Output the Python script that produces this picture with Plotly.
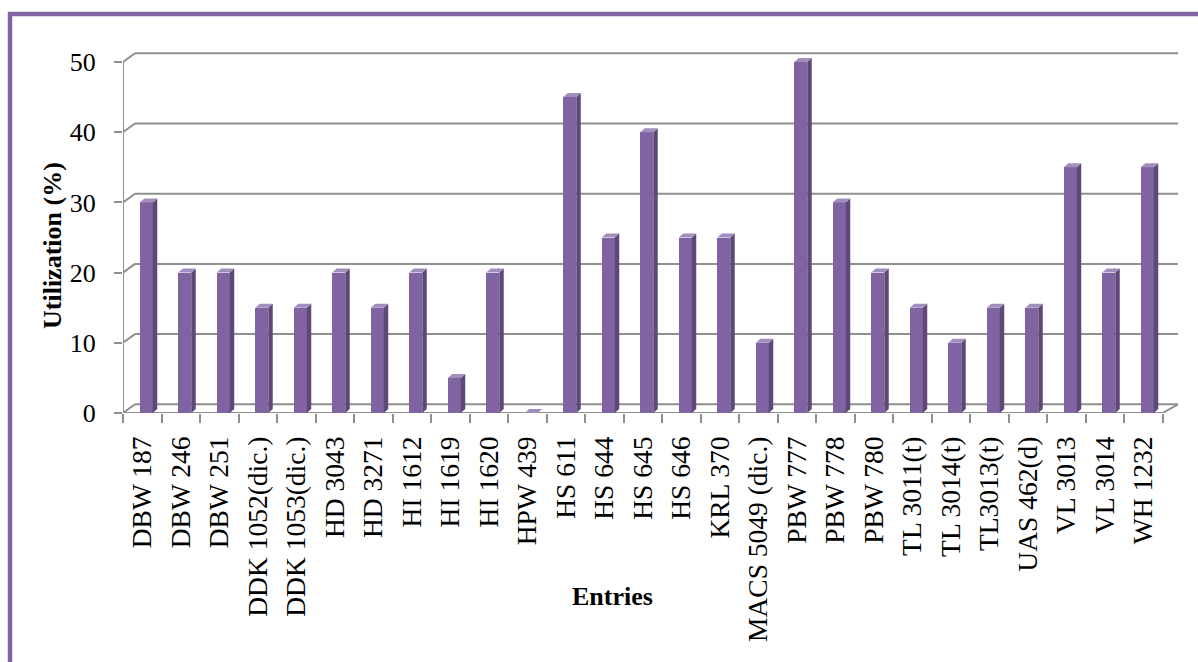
import plotly.graph_objects as go

entries = ["DBW 187", "DBW 246", "DBW 251", "DDK 1052(dic.)", "DDK 1053(dic.)",
           "HD 3043", "HD 3271", "HI 1612", "HI 1619", "HI 1620", "HPW 439",
           "HS 611", "HS 644", "HS 645", "HS 646", "KRL 370", "MACS 5049 (dic.)",
           "PBW 777", "PBW 778", "PBW 780", "TL 3011(t)", "TL 3014(t)", "TL3013(t)",
           "UAS 462(d)", "VL 3013", "VL 3014", "WH 1232"]
utilization = [30, 20, 20, 15, 15, 20, 15, 20, 5, 20, 0, 45, 25, 40, 25, 25, 10,
               50, 30, 20, 15, 10, 15, 15, 35, 20, 35]
y_ticks = [0, 10, 20, 30, 40, 50]

# geometry (in axis units)
L, R, T, B = 123, 1178, 50, 413
PX_X = 38.5
PX_Y = 7.02
n = len(entries)
xmin = -0.5
xmax = xmin + (R - L) / PX_X
ymax = (B - T) / PX_Y

DXB = 12 / PX_X     # back wall depth
DYB = 8.7 / PX_Y
BW = 13 / PX_X      # bar front width
BS = 4 / PX_X       # bar centre shift
DX = 4.5 / PX_X     # bar depth
DY = 4 / PX_Y

FRONT = "#8064A2"
SIDE = "#5E4879"
TOP = "#A18EBD"
GRID = "#8F8F8F"
FONT = "Liberation Serif, Times New Roman, serif"

idx = list(range(n))
fig = go.Figure()
fig.add_trace(go.Bar(x=idx, y=utilization, width=BW, offset=-BW / 2 + BS,
                     marker=dict(color=FRONT, line=dict(width=0)),
                     showlegend=False, hoverinfo="skip"))

for i, v in zip(idx, utilization):
    x0 = i - BW / 2 + BS
    x1 = x0 + BW
    if v > 0:
        fig.add_trace(go.Scatter(
            x=[x1, x1, x1 + DX, x1 + DX, x1], y=[0, v, v + DY, DY, 0],
            fill="toself", fillcolor=SIDE, mode="lines", line=dict(width=0),
            showlegend=False, hoverinfo="skip"))
    fig.add_trace(go.Scatter(
        x=[x0, x1, x1 + DX, x0 + DX, x0], y=[v, v, v + DY, v + DY, v],
        fill="toself", fillcolor=TOP, mode="lines", line=dict(width=0),
        showlegend=False, hoverinfo="skip"))

shapes = []
for v in y_ticks:
    shapes.append(dict(type="line", xref="x", yref="y", layer="below",
                       x0=xmin + DXB, x1=xmax, y0=v + DYB, y1=v + DYB,
                       line=dict(color=GRID, width=2)))
    shapes.append(dict(type="line", xref="x", yref="y", layer="below",
                       x0=xmin, x1=xmin + DXB, y0=v, y1=v + DYB,
                       line=dict(color=GRID, width=2)))
# y axis line
shapes.append(dict(type="line", xref="x", yref="y", layer="below",
                   x0=xmin, x1=xmin, y0=0, y1=max(y_ticks),
                   line=dict(color=GRID, width=2)))
# floor front edge
shapes.append(dict(type="line", xref="x", yref="y", layer="below",
                   x0=xmin, x1=n - 0.5, y0=0, y1=0,
                   line=dict(color=GRID, width=2)))
shapes.append(dict(type="line", xref="x", yref="y", layer="below",
                   x0=n - 0.5, x1=xmax, y0=0, y1=DYB,
                   line=dict(color=GRID, width=2)))
# outer purple frame
shapes.append(dict(type="rect", xref="paper", yref="paper", layer="above",
                   x0=(10 - L) / (R - L), x1=1.3,
                   y0=-1.0, y1=(B - 14) / (B - T),
                   line=dict(color="#8064A2", width=4.5)))

fig.update_layout(
    width=1198, height=662,
    margin=dict(l=L, r=1198 - R, t=T, b=662 - B, pad=0),
    plot_bgcolor="white", paper_bgcolor="white",
    bargap=0, shapes=shapes,
    font=dict(family=FONT, color="black"),
    xaxis=dict(range=[xmin, xmax], tickvals=idx, ticktext=entries,
               tickangle=-90, ticks="", showgrid=False, zeroline=False,
               showline=False, ticklabelstandoff=17,
               tickfont=dict(family=FONT, size=27.5, color="black"),
               minor=dict(tickvals=[i - 0.5 for i in range(n + 1)],
                          ticks="outside", ticklen=9, tickwidth=2,
                          tickcolor=GRID, showgrid=False)),
    yaxis=dict(range=[0, ymax], tickvals=y_ticks, ticks="outside", ticklen=8,
               tickwidth=2, tickcolor=GRID, showgrid=False, zeroline=False,
               showline=False, ticklabelstandoff=13,
               tickfont=dict(family=FONT, size=26, color="black")),
    annotations=[
        dict(text="<b>Utilization (%)</b>", xref="paper", yref="paper",
             x=(52 - L) / (R - L), y=(B - 246) / (B - T), textangle=-90,
             showarrow=False, xanchor="center", yanchor="middle",
             font=dict(family=FONT, size=26, color="black")),
        dict(text="<b>Entries</b>", xref="paper", yref="paper",
             x=(612 - L) / (R - L), y=(B - 596) / (B - T),
             showarrow=False, xanchor="center", yanchor="middle",
             font=dict(family=FONT, size=26, color="black")),
    ],
)

fig.write_html("out.html")
